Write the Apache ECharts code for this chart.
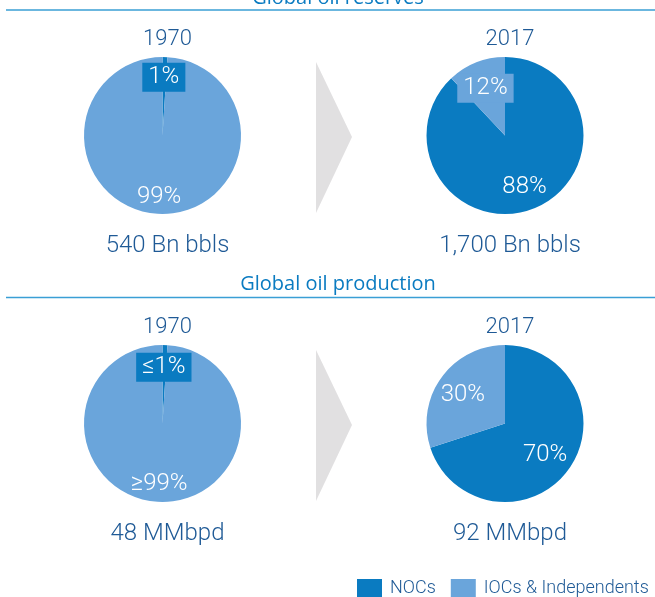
<!DOCTYPE html>
<html lang="en">
<head>
    <meta charset="UTF-8">
    <title>Global oil reserves and production</title>
    <script src="https://cdn.jsdelivr.net/npm/echarts@6/dist/echarts.min.js"></script>
    <style>
        body { margin: 0; background: #fff; }
        #chart { width: 655px; height: 597px; }
    </style>
</head>
<body>
    <div id="chart"></div>
    <script>
        // data
        const years = ['1970', '2017'];
        const reservesNOC = [1, 88];
        const reservesIOC = [99, 12];
        const productionNOC = [1, 70];
        const productionIOC = [99, 30];
        const reservesNocLabels = ['1%', '88%'];
        const reservesIocLabels = ['99%', '12%'];
        const productionNocLabels = ['≤1%', '70%'];
        const productionIocLabels = ['≥99%', '30%'];
        const reservesTotals = ['540 Bn bbls', '1,700 Bn bbls'];
        const productionTotals = ['48 MMbpd', '92 MMbpd'];
        const seriesNames = ['NOCs', 'IOCs & Independents'];

        const NOC_COLOR = '#0a7bc1';
        const IOC_COLOR = '#6aa5db';
        const TEXT_COLOR = '#1f5a96';
        const FONT = 'Roboto, "Liberation Sans", sans-serif';

        // layout
        const colX = [162.5, 505];
        const rowY = [135.5, 423.5];
        const R = 78.5;

        // label offsets per pie: [noc, ioc]
        const labelOffsets = [
            [[[0, -16], [-2, 19]], [[4, 12], [-4, -8]]],
            [[[0, -14], [-2, 18]], [[6, 7], [-8, -4]]]
        ];
        // label boxes: which label gets a background [noc, ioc]
        const labelBoxes = [
            [[NOC_COLOR, null], [null, IOC_COLOR]],
            [[NOC_COLOR, null], [null, null]]
        ];

        const rows = [
            { noc: reservesNOC, ioc: reservesIOC, nocL: reservesNocLabels, iocL: reservesIocLabels, totals: reservesTotals },
            { noc: productionNOC, ioc: productionIOC, nocL: productionNocLabels, iocL: productionIocLabels, totals: productionTotals }
        ];

        function makeLabel(text, offset, bg) {
            const l = {
                show: true,
                position: 'inside',
                formatter: text,
                offset: offset,
                color: '#fff',
                fontSize: 24,
                fontFamily: FONT,
                fontWeight: 300
            };
            if (bg) {
                l.backgroundColor = bg;
                l.padding = [3, 6, 2, 6];
            }
            return l;
        }

        const series = [];
        const titles = [];
        rows.forEach((row, r) => {
            years.forEach((year, c) => {
                series.push({
                    type: 'pie',
                    center: [colX[c], rowY[r]],
                    radius: R,
                    startAngle: 90,
                    clockwise: true,
                    silent: true,
                    labelLine: { show: false },
                    emphasis: { disabled: true },
                    data: [
                        { name: seriesNames[0], value: row.noc[c], itemStyle: { color: NOC_COLOR },
                          label: makeLabel(row.nocL[c], labelOffsets[r][c][0], labelBoxes[r][c][0]) },
                        { name: seriesNames[1], value: row.ioc[c], itemStyle: { color: IOC_COLOR },
                          label: makeLabel(row.iocL[c], labelOffsets[r][c][1], labelBoxes[r][c][1]) }
                    ]
                });
                titles.push({
                    text: year,
                    left: colX[c], top: rowY[r] - 112,
                    textAlign: 'center',
                    textStyle: { color: TEXT_COLOR, fontSize: 22, fontWeight: 300, fontFamily: FONT }
                });
                titles.push({
                    text: row.totals[c],
                    left: colX[c], top: rowY[r] + 93,
                    textAlign: 'center',
                    textStyle: { color: TEXT_COLOR, fontSize: 24, fontWeight: 300, fontFamily: FONT }
                });
            });
        });

        // section headings
        const headStyle = { color: NOC_COLOR, fontSize: 20, fontWeight: 'normal', fontFamily: '"Open Sans", sans-serif' };
        titles.push({ text: 'Global oil reserves', left: 333, top: -17, textAlign: 'center', textStyle: headStyle });
        titles.push({ text: 'Global oil production', left: 333, top: 269, textAlign: 'center', textStyle: headStyle });

        const chart = echarts.init(document.getElementById('chart'));
        chart.setOption({
            animation: false,
            title: titles,
            legend: {
                data: seriesNames,
                left: 357, top: 579,
                padding: 0,
                itemWidth: 25, itemHeight: 18,
                itemGap: 15,
                selectedMode: false,
                icon: 'rect',
                textStyle: { color: TEXT_COLOR, fontSize: 18, fontWeight: 300, fontFamily: FONT, padding: [0, 0, 0, 3] }
            },
            graphic: [
                { type: 'line', shape: { x1: 6, y1: 10, x2: 655, y2: 10 }, style: { stroke: '#3a9fd5', lineWidth: 1.5 } },
                { type: 'line', shape: { x1: 6, y1: 297.5, x2: 655, y2: 297.5 }, style: { stroke: '#3a9fd5', lineWidth: 1.5 } },
                { type: 'polygon', shape: { points: [[316, 62], [352, 137], [316, 213]] }, style: { fill: '#e1e0e1' } },
                { type: 'polygon', shape: { points: [[316, 350], [352, 425], [316, 501]] }, style: { fill: '#e1e0e1' } }
            ],
            series: series
        });
    </script>
</body>
</html>
